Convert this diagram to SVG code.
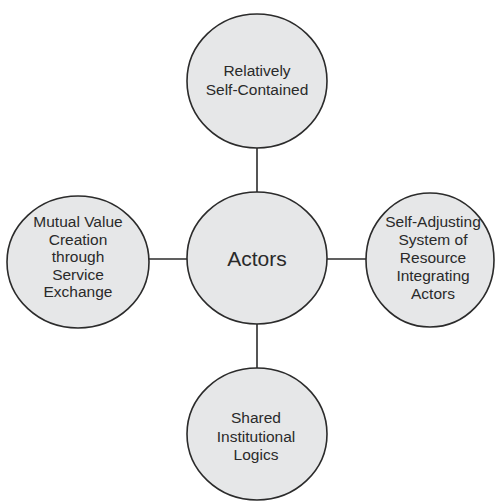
<svg xmlns="http://www.w3.org/2000/svg" width="496" height="502" viewBox="0 0 496 502">
  <style>
    .node { fill: #e6e7e8; stroke: #2b2b2b; stroke-width: 1.6; }
    .link { stroke: #2b2b2b; stroke-width: 1.6; fill: none; }
    .label { font-family: "Liberation Sans", Arial, sans-serif; font-size: 15.5px; fill: #2a2a2a; text-anchor: middle; }
    .hub { font-size: 21px; }
  </style>
  <rect width="496" height="502" fill="#ffffff"/>

  <!-- spokes joining the hub to the four outer nodes -->
  <g id="connectors">
    <line class="link" x1="257" y1="148" x2="257" y2="192"/>
    <line class="link" x1="257" y1="324" x2="257" y2="368"/>
    <line class="link" x1="149" y1="259" x2="187" y2="259"/>
    <line class="link" x1="327" y1="259" x2="366" y2="259"/>
  </g>

  <g id="node-top">
    <ellipse class="node" cx="257" cy="81" rx="70" ry="67"/>
    <text class="label" x="257" y="76">Relatively</text>
    <text class="label" x="257" y="95">Self-Contained</text>
  </g>

  <g id="node-actors">
    <ellipse class="node" cx="257" cy="258" rx="70" ry="66"/>
    <text class="label hub" x="257" y="266">Actors</text>
  </g>

  <g id="node-left">
    <ellipse class="node" cx="78" cy="262" rx="71" ry="66"/>
    <text class="label" x="78" y="227">Mutual Value</text>
    <text class="label" x="78" y="245">Creation</text>
    <text class="label" x="78" y="262">through</text>
    <text class="label" x="78" y="280">Service</text>
    <text class="label" x="78" y="297">Exchange</text>
  </g>

  <g id="node-right">
    <ellipse class="node" cx="430" cy="260" rx="64" ry="67"/>
    <text class="label" x="433" y="227">Self-Adjusting</text>
    <text class="label" x="433" y="245">System of</text>
    <text class="label" x="433" y="263">Resource</text>
    <text class="label" x="433" y="281">Integrating</text>
    <text class="label" x="433" y="299">Actors</text>
  </g>

  <g id="node-bottom">
    <ellipse class="node" cx="257" cy="434" rx="70" ry="66"/>
    <text class="label" x="256" y="423">Shared</text>
    <text class="label" x="256" y="442">Institutional</text>
    <text class="label" x="256" y="460">Logics</text>
  </g>
</svg>
